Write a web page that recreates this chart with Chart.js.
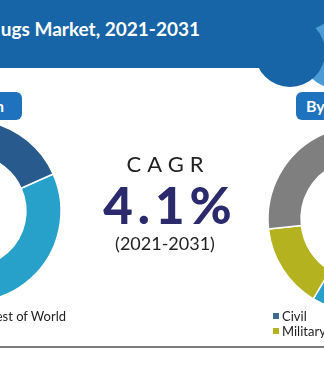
<!DOCTYPE html>
<html>
<head>
<meta charset="utf-8">
<script src="https://cdn.jsdelivr.net/npm/chart.js@4.4.0/dist/chart.umd.min.js"></script>
<style>
  html, body { margin: 0; padding: 0; background: #ffffff; }
  #page { position: relative; width: 324px; height: 381px; overflow: hidden; background: #ffffff; font-family: Lato, "Open Sans", sans-serif; }
  .bar { position: absolute; left: 0; top: 0; width: 324px; height: 68px; background: #1764a6; }
  .bump2 { position: absolute; left: 302px; top: 22px; width: 66px; height: 66px; border-radius: 50%; background: #4b9bd6; }
  .bump { position: absolute; left: 255px; top: 17px; width: 70px; height: 70px; border-radius: 50%; background: #1764a6; }
  .title { position: absolute; right: 124px; top: 17px; color: #ffffff; font-weight: 700; font-size: 19px; white-space: nowrap; }
  .tab { position: absolute; height: 28px; background: #1f72bd; border-radius: 6px; color: #ffffff; font-weight: 700; font-size: 16px; line-height: 28px; white-space: nowrap; }
  #tabL { left: -120px; top: 92px; width: 142px; }
  #tabL span { position: absolute; right: 18px; }
  #tabR { left: 296px; top: 92px; width: 160px; padding-left: 10px; box-sizing: border-box; }
  canvas { position: absolute; }
  #donutL { left: -130px; top: 111px; }
  #donutR { left: 261px; top: 119px; }
  .cagr { position: absolute; left: 0; width: 330px; text-align: center; color: #222222; }
  #cagrT { top: 150px; font-size: 22px; letter-spacing: 6px; padding-left: 6px; box-sizing: border-box; }
  #cagrV { top: 174px; font-size: 51px; font-weight: 900; color: #2b2a6c; letter-spacing: 5px; padding-left: 10px; box-sizing: border-box; }
  #cagrP { top: 232px; font-size: 18px; }
  .legend { position: absolute; font-size: 13px; color: #222222; white-space: nowrap; }
  .legend .item { display: flex; align-items: center; height: 15px; }
  .legend .box { width: 6px; height: 6px; margin-right: 3px; flex: none; }
  #legL { right: 258px; top: 308px; display: flex; gap: 12px; }
  #legR { left: 273px; top: 308px; display: grid; grid-template-columns: auto auto; column-gap: 14px; }
  .rule { position: absolute; left: 0; top: 346px; width: 324px; height: 2px; background: #7a7a7a; }
</style>
</head>
<body>
<div id="page">
  <div class="bar"></div>
  <div class="bump2"></div>
  <div class="bump"></div>
  <div class="title">ugs Market, 2021-2031</div>
  <div class="tab" id="tabL"><span>By Region</span></div>
  <div class="tab" id="tabR">By Application</div>

  <canvas id="donutL" width="200" height="200"></canvas>
  <canvas id="donutR" width="200" height="200"></canvas>

  <div class="cagr" id="cagrT">CAGR</div>
  <div class="cagr" id="cagrV"></div>
  <div class="cagr" id="cagrP"></div>

  <div class="legend" id="legL"></div>
  <div class="legend" id="legR"></div>
  <div class="rule"></div>
</div>
<script>
// Market share by region (%), listed clockwise from the first slice
const regionLabels = ['North America', 'Europe', 'Asia-Pacific', 'Rest of World'];
const regionShares = [40, 16, 14, 30];
const regionColors = ['#27a1c9', '#7f7f7f', '#b4b21f', '#285a8d'];

// Market share by application (%)
const appLabels = ['Civil', 'Commercial', 'Military', 'Others'];
const appShares = [30, 17.2, 14.7, 38.1];
const appColors = ['#3c6a8e', '#27a1c9', '#b4b21f', '#7f7f7f'];

// Headline growth figure
const cagrValue = 4.1;
const cagrPeriod = ['2021', '2031'];

document.getElementById('cagrV').textContent = cagrValue.toFixed(1) + '%';
document.getElementById('cagrP').textContent = '(' + cagrPeriod.join('-') + ')';

function donut(id, labels, values, colors, rotation, radius, cutout) {
  return new Chart(document.getElementById(id), {
    type: 'doughnut',
    data: {
      labels: labels,
      datasets: [{
        data: values,
        backgroundColor: colors,
        borderColor: '#ffffff',
        borderWidth: 1.5
      }]
    },
    options: {
      responsive: false,
      animation: false,
      events: [],
      rotation: rotation,
      radius: radius,
      cutout: cutout,
      layout: { padding: 0 },
      plugins: { legend: { display: false }, tooltip: { enabled: false } }
    }
  });
}

donut('donutL', regionLabels, regionShares, regionColors, 66, 91, 61);
donut('donutR', appLabels, appShares, appColors, 41, 93, 64);

function legend(id, labels, colors) {
  const el = document.getElementById(id);
  labels.forEach((label, i) => {
    const item = document.createElement('div');
    item.className = 'item';
    const box = document.createElement('span');
    box.className = 'box';
    box.style.background = colors[i];
    const text = document.createElement('span');
    text.textContent = label;
    item.appendChild(box);
    item.appendChild(text);
    el.appendChild(item);
  });
}
legend('legL', regionLabels, regionColors);
legend('legR', appLabels, appColors);
</script>
</body>
</html>
